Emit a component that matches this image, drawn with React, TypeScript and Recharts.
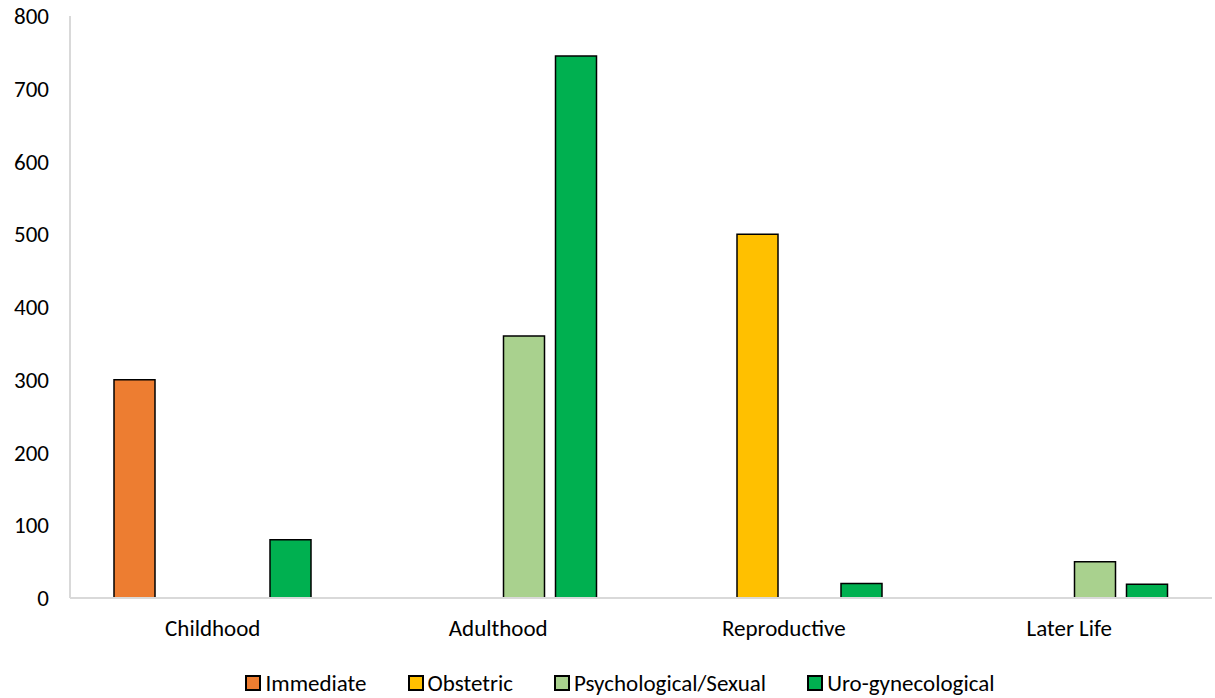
import { BarChart, Bar, XAxis, YAxis, Legend } from 'recharts';

const categorias = ['Childhood', 'Adulthood', 'Reproductive', 'Later Life'];
const immediate = [300, 0, 0, 0];
const obstetric = [0, 0, 500, 0];
const psicosexual = [0, 360, 0, 50];
const urogine = [80, 745, 20, 19];
const ticksY = [0, 100, 200, 300, 400, 500, 600, 700, 800];

const series = [
  { key: 'immediate', nombre: 'Immediate', color: '#ED7D31' },
  { key: 'obstetric', nombre: 'Obstetric', color: '#FFC000' },
  { key: 'psych', nombre: 'Psychological/Sexual', color: '#A9D18E' },
  { key: 'uro', nombre: 'Uro-gynecological', color: '#00B050' },
];

const datos = categorias.map((c, i) => ({
  nombre: c,
  immediate: immediate[i],
  obstetric: obstetric[i],
  psych: psicosexual[i],
  uro: urogine[i],
}));

const fuente = 'Carlito, Lato, "Open Sans", sans-serif';
const tam = 23;

// leyenda a mano: cuadritos con borde negro
function Leyenda() {
  return (
    <div style={{ display: 'flex', justifyContent: 'center', gap: 41, fontFamily: fuente, fontSize: tam, color: '#000', lineHeight: '30px', paddingLeft: 26 }}>
      {series.map((s) => (
        <div key={s.key} style={{ display: 'flex', alignItems: 'center' }}>
          <span style={{ width: 12, height: 12, background: s.color, border: '2px solid #000', marginRight: 4, display: 'inline-block' }} />
          <span>{s.nombre}</span>
        </div>
      ))}
    </div>
  );
}

export default function App() {
  return (
    <div style={{ position: 'absolute', left: 0, top: 0, background: '#fff' }}>
      <BarChart
        width={1215}
        height={698}
        data={datos}
        margin={{ top: 16, right: 3, left: 2, bottom: 0 }}
        barSize={41}
        barGap={11}
      >
        <XAxis
          dataKey="nombre"
          tickLine={false}
          tickSize={0}
          tickMargin={22}
          height={70}
          axisLine={{ stroke: '#D9D9D9', strokeWidth: 2 }}
          tick={{ fill: '#000', fontSize: tam, fontFamily: fuente }}
        />
        <YAxis
          domain={[0, 800]}
          ticks={ticksY}
          width={68}
          tickLine={false}
          tickSize={0}
          tickMargin={21}
          axisLine={{ stroke: '#D9D9D9', strokeWidth: 2 }}
          tick={{ fill: '#000', fontSize: tam, fontFamily: fuente }}
        />
        <Legend verticalAlign="bottom" height={30} content={() => <Leyenda />} />
        {series.map((s) => (
          <Bar
            key={s.key}
            dataKey={s.key}
            name={s.nombre}
            fill={s.color}
            stroke="#000"
            strokeWidth={1.5}
            isAnimationActive={false}
          />
        ))}
      </BarChart>
    </div>
  );
}
